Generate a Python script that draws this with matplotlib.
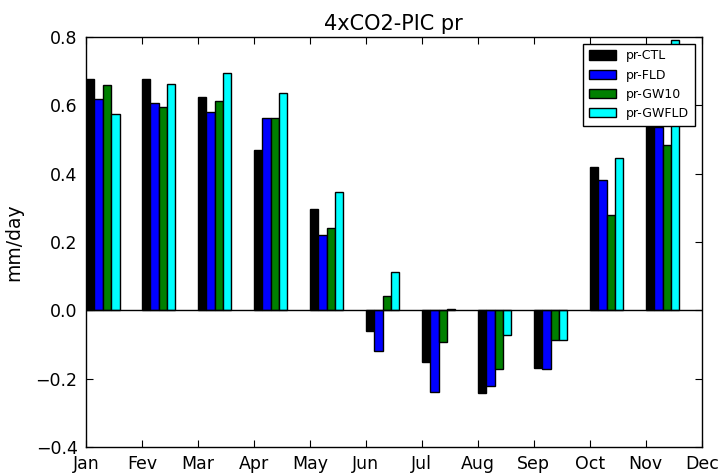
import matplotlib
matplotlib.use("Agg")
import matplotlib.pyplot as plt
import numpy as np

months = ["Jan", "Fev", "Mar", "Apr", "May", "Jun", "Jul", "Aug", "Sep", "Oct", "Nov", "Dec"]
series_names = ["pr-CTL", "pr-FLD", "pr-GW10", "pr-GWFLD"]
pr_ctl = [0.676, 0.678, 0.623, 0.469, 0.297, -0.060, -0.151, -0.243, -0.169, 0.419, 0.60]
pr_fld = [0.617, 0.607, 0.581, 0.563, 0.220, -0.119, -0.238, -0.222, -0.171, 0.381, 0.537]
pr_gw10 = [0.659, 0.594, 0.612, 0.563, 0.240, 0.043, -0.092, -0.173, -0.087, 0.278, 0.483]
pr_gwfld = [0.574, 0.661, 0.694, 0.637, 0.346, 0.113, 0.003, -0.073, -0.088, 0.447, 0.79]
colors = ["black", "blue", "green", "cyan"]

fig = plt.figure(figsize=(7.22, 4.73), dpi=100)
ax = fig.add_axes([0.119, 0.055, 0.853, 0.867])

x = np.arange(len(pr_ctl))
w = 0.15
for k, (vals, c, name) in enumerate(zip([pr_ctl, pr_fld, pr_gw10, pr_gwfld], colors, series_names)):
    ax.bar(x + k * w, vals, width=w, align="edge", color=c, edgecolor="black",
           linewidth=1.0, label=name)

ax.axhline(0, color="black", linewidth=1.0)
ax.set_xlim(0, 11)
ax.set_ylim(-0.4, 0.8)
ax.set_xticks(np.arange(12))
ax.set_xticklabels(months, fontsize=12.5)
ax.set_yticks(np.arange(-0.4, 0.81, 0.2))
ax.set_yticklabels(["\u22120.4", "\u22120.2", "0.0", "0.2", "0.4", "0.6", "0.8"], fontsize=12.5)
ax.tick_params(direction="in", top=True, right=True, length=5, pad=6)
ax.set_ylabel("mm/day", fontsize=13.5, labelpad=9)
ax.set_title("4xCO2-PIC pr", fontsize=15, pad=5)
for s in ax.spines.values():
    s.set_linewidth(1.0)

leg = ax.legend(loc="upper right", fontsize=9, fancybox=False, framealpha=1,
                edgecolor="black", borderaxespad=0.55, handlelength=2.2,
                handleheight=0.75, labelspacing=0.5, borderpad=0.45)
leg.get_frame().set_linewidth(1.0)

fig.savefig("out.png", dpi=100)
